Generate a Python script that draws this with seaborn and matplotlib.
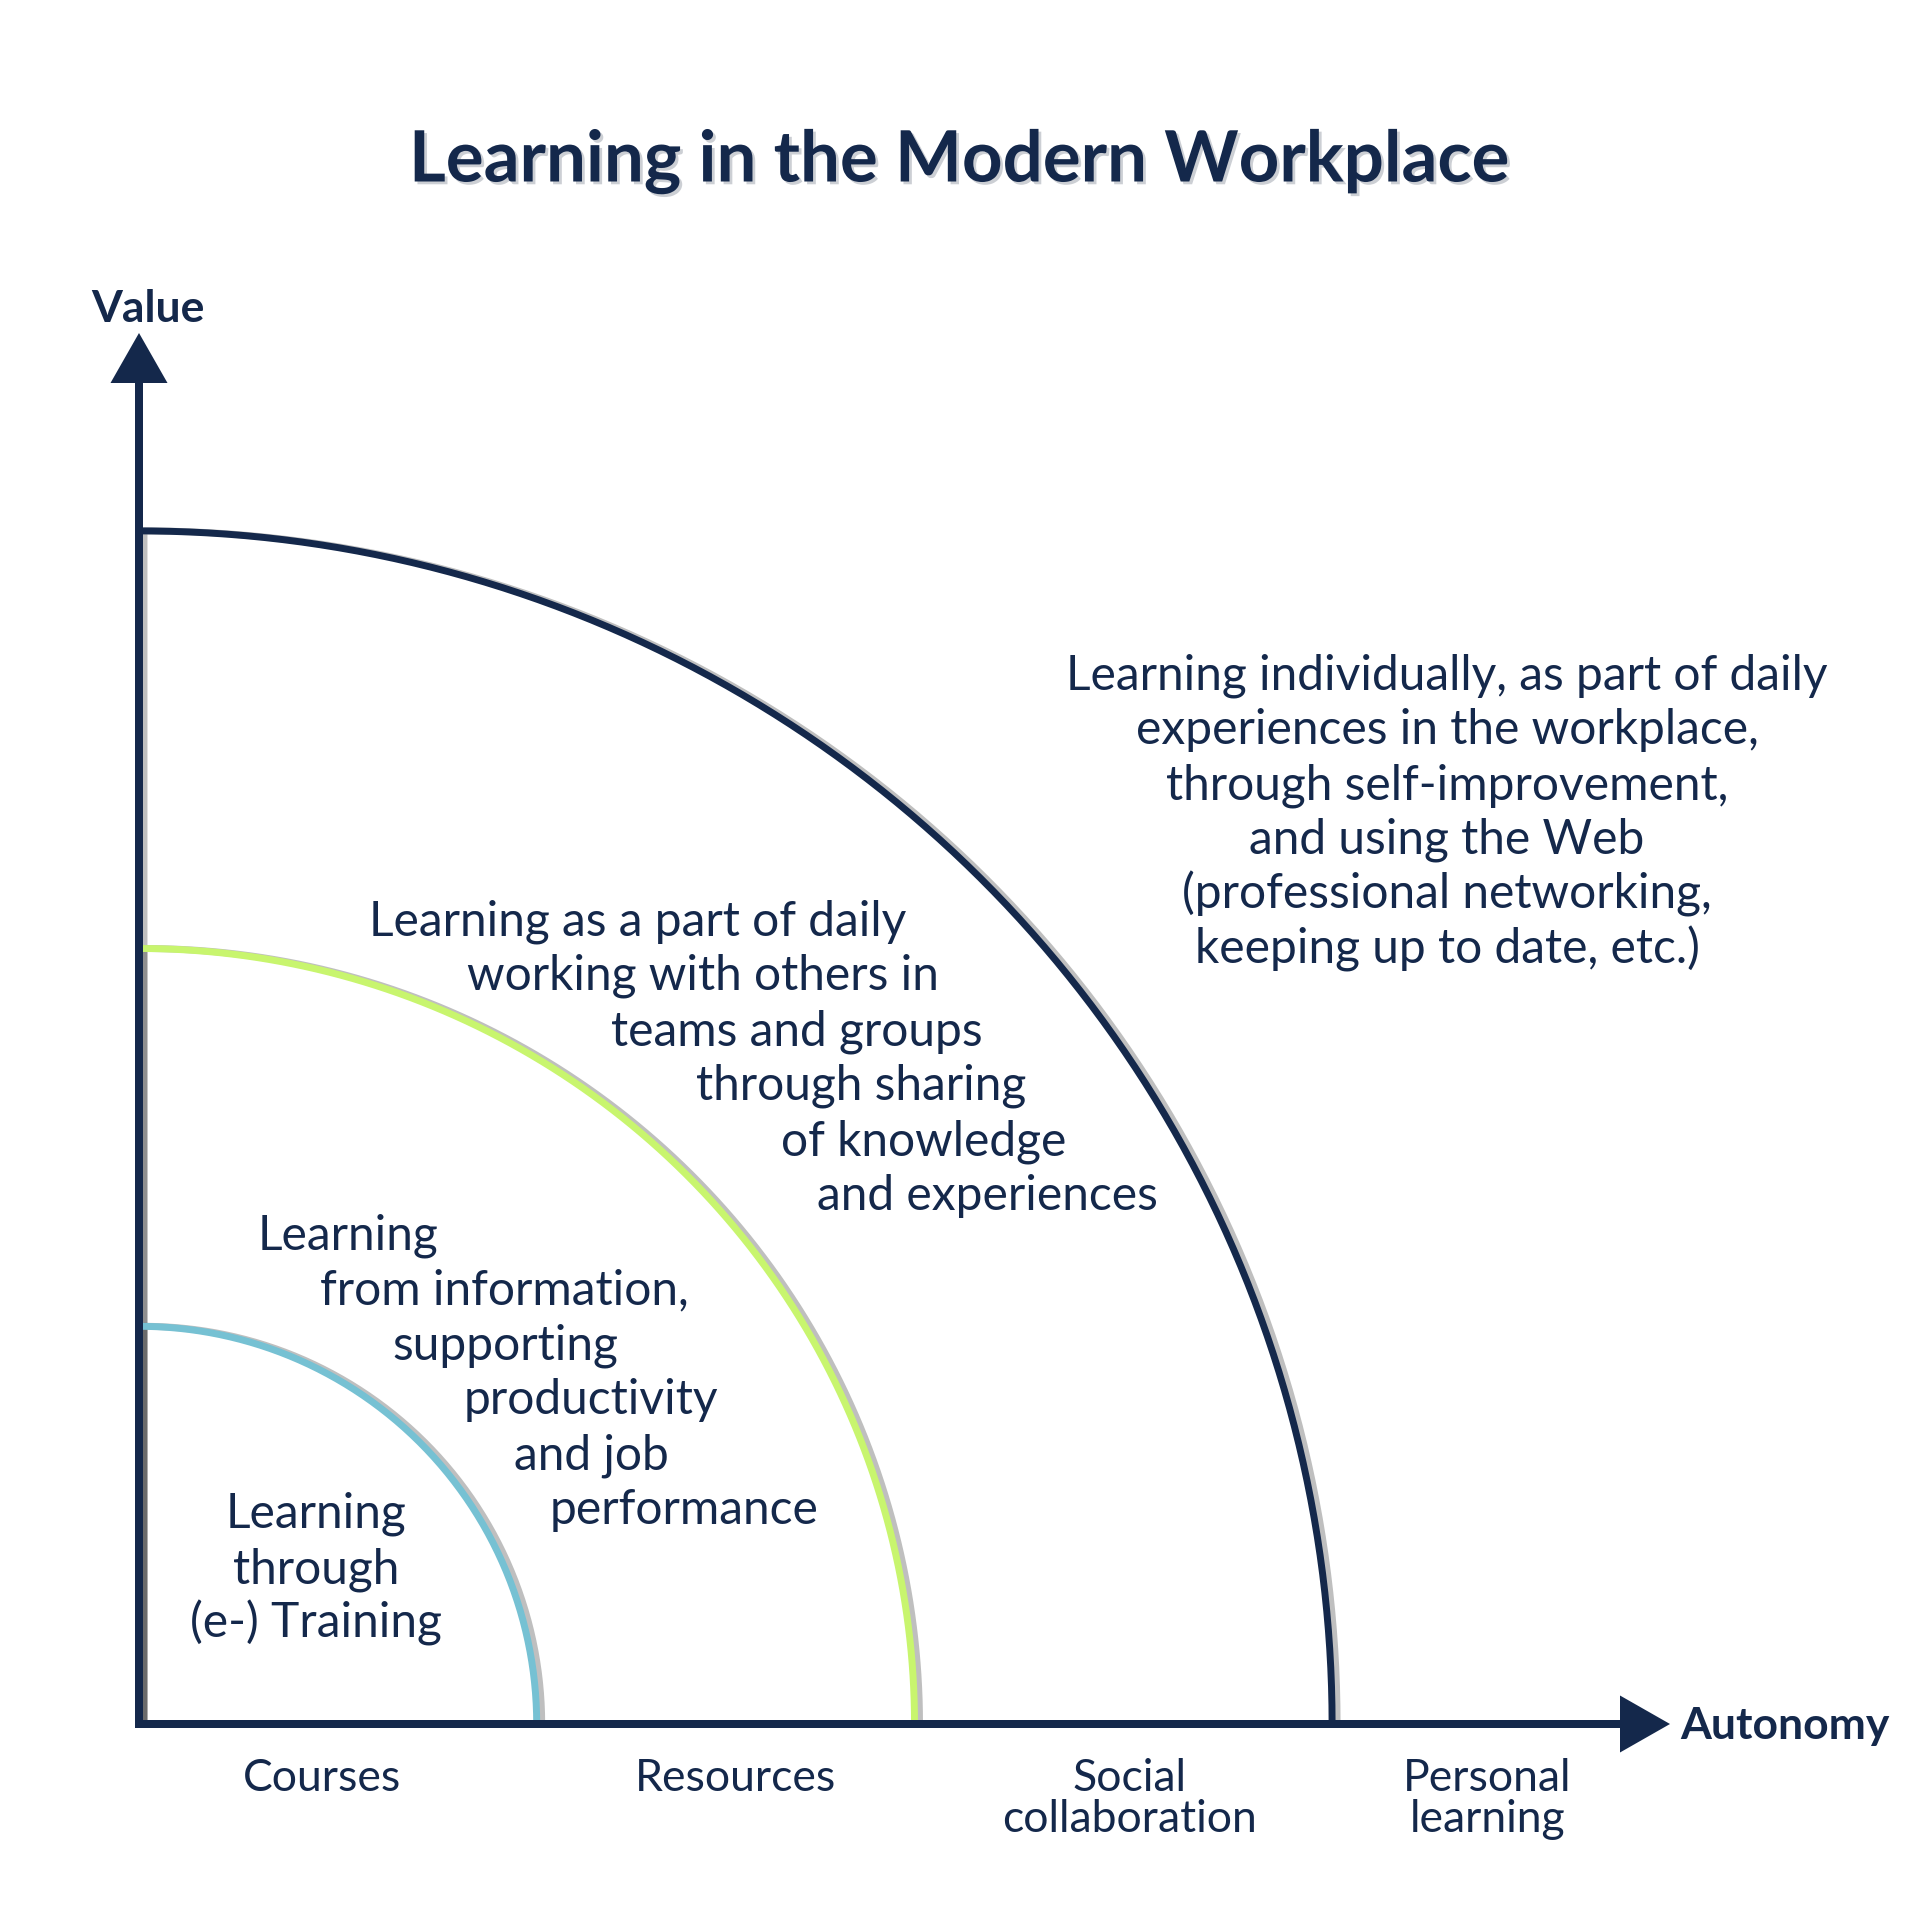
import numpy as np
import pandas as pd
import matplotlib.pyplot as plt
import matplotlib.patheffects as pe
import seaborn as sns

# ring radii (outer radius = 3 units), one ring per learning mode
ring_names = ['Training', 'Resources', 'Collaboration']
ring_radii = [1.0, 1.95, 3.0]
ring_colors = ['#76C1D3', '#C8F56E', '#14284B']

categories = ['Courses', 'Resources', 'Social\ncollaboration', 'Personal\nlearning']
category_pos = [0.46, 1.5, 2.49, 3.39]

title = 'Learning in the Modern Workplace'
y_label = 'Value'
x_label = 'Autonomy'

block_training = ['Learning', 'through', '(e-) Training']
block_resources = ['Learning', 'from information,', 'supporting',
                   'productivity', 'and job', 'performance']
block_social = ['Learning as a part of daily', 'working with others in',
                'teams and groups', 'through sharing', 'of knowledge',
                'and experiences']
block_personal = ['Learning individually, as part of daily',
                  'experiences in the workplace,',
                  'through self-improvement,',
                  'and using the Web',
                  '(professional networking,',
                  'keeping up to date, etc.)']

NAVY = '#14284B'
sns.set_theme(style='white')
plt.rcParams['font.family'] = ['Lato', 'DejaVu Sans']

# pixel layout helpers: origin of the quadrant and pixels per unit
W = 1920
OX, OY = 139, 1724
U = 397.7
LINE = 55


def fx(px):
    return px / W


def fy(py):
    return 1 - py / W


fig = plt.figure(figsize=(19.2, 19.2), dpi=100)
ax = fig.add_axes([0, 0, 1, 1])
ax.set_xlim(-OX / U, (W - OX) / U)
ax.set_ylim(-(W - OY) / U, OY / U)
ax.set_aspect('equal')
ax.axis('off')

theta = np.linspace(0, np.pi / 2, 300)
shift = 5 / U
for name, r, c in zip(ring_names, ring_radii, ring_colors):
    arc = pd.DataFrame({'x': r * np.cos(theta), 'y': r * np.sin(theta)})
    # soft shadow to the right, including along the value axis
    sh = pd.DataFrame({'x': np.r_[arc['x'].values, [0, 0]] + shift,
                       'y': np.r_[arc['y'].values, [r, 0]]})
    sns.lineplot(data=sh, x='x', y='y', sort=False, estimator=None, ax=ax,
                 color='black', alpha=0.25, linewidth=5, zorder=1)
    sns.lineplot(data=arc, x='x', y='y', sort=False, estimator=None, ax=ax,
                 color=c, linewidth=5, zorder=2)

# axes with arrow heads
w = 8 / U
ax.arrow(0, -w / 2, 0, (OY - 333) / U + w / 2, width=w, head_width=57 / U,
         head_length=50 / U, length_includes_head=True, color=NAVY, lw=0,
         zorder=3)
ax.arrow(-w / 2, 0, (1670 - OX) / U + w / 2, 0, width=w, head_width=57 / U,
         head_length=50 / U, length_includes_head=True, color=NAVY, lw=0,
         zorder=3)

fig.text(0.5, fy(162), title, ha='center', va='center', fontsize=51,
         fontweight='bold', color=NAVY,
         path_effects=[pe.withSimplePatchShadow(offset=(2, -2),
                                                shadow_rgbFace='#9AA0AA',
                                                alpha=0.5)])
fig.text(fx(148), fy(322), y_label, ha='center', va='baseline', fontsize=32,
         fontweight='bold', color=NAVY)
fig.text(fx(1680), fy(1739), x_label, ha='left', va='baseline', fontsize=32,
         fontweight='bold', color=NAVY)

for cat, p in zip(categories, category_pos):
    ax.text(p, -34 / U, cat, ha='center', va='top', fontsize=32,
            color=NAVY, linespacing=1.0)

body = dict(fontsize=34.5, color=NAVY, va='baseline')
for i, line in enumerate(block_training):
    fig.text(fx(316), fy(1528 + LINE * i), line, ha='center', **body)

for i, line in enumerate(block_personal):
    fig.text(fx(1447), fy(689 + LINE * i), line, ha='center', **body)

res_x = [258, 320, 392, 464, 514, 550]
for i, (line, x) in enumerate(zip(block_resources, res_x)):
    fig.text(fx(x), fy(1249 + LINE * i), line, ha='left', **body)

soc_x = [369, 467, 611, 696, 781, 817]
for i, (line, x) in enumerate(zip(block_social, soc_x)):
    fig.text(fx(x), fy(935 + LINE * i), line, ha='left', **body)

fig.savefig('out.png', dpi=100, facecolor='white')
